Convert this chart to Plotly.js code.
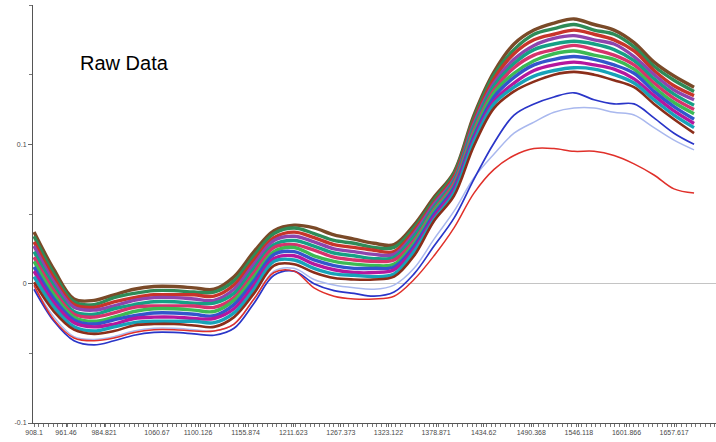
<!DOCTYPE html>
<html>
<head>
<meta charset="utf-8">
<script src="https://cdn.plot.ly/plotly-3.0.1.min.js"></script>
<style>
  html, body { margin: 0; padding: 0; background: #ffffff; }
  #chart { width: 716px; height: 442px; }
</style>
</head>
<body>
<div id="chart"></div>
<script>
// Wavelength sampling points (nm)
const wavelengths = [908.1, 931.5, 954.9, 978.4, 1001.8, 1025.2, 1048.6, 1072.0, 1095.5, 1118.9,
  1142.3, 1165.7, 1189.1, 1212.6, 1236.0, 1259.4, 1282.8, 1306.2, 1329.7, 1353.1,
  1376.5, 1399.9, 1423.3, 1446.8, 1470.2, 1493.6, 1517.0, 1540.4, 1563.9, 1587.3,
  1610.7, 1634.1, 1657.5, 1681.0];

// Spectra (absorbance)
const s01 = [0.037, 0.010, -0.011, -0.012, -0.008, -0.004, -0.002, -0.002, -0.003, -0.004, 0.005, 0.023, 0.038, 0.042, 0.040, 0.035, 0.032, 0.029, 0.028, 0.042, 0.062, 0.080, 0.121, 0.152, 0.172, 0.182, 0.187, 0.190, 0.186, 0.182, 0.173, 0.159, 0.149, 0.141];
const s02 = [0.034, 0.007, -0.013, -0.015, -0.010, -0.007, -0.005, -0.005, -0.006, -0.006, 0.002, 0.020, 0.036, 0.040, 0.036, 0.031, 0.029, 0.026, 0.026, 0.040, 0.060, 0.079, 0.119, 0.150, 0.168, 0.179, 0.183, 0.186, 0.182, 0.179, 0.170, 0.156, 0.146, 0.138];
const s03 = [0.030, 0.004, -0.015, -0.017, -0.013, -0.010, -0.008, -0.008, -0.008, -0.009, -0.001, 0.017, 0.033, 0.037, 0.033, 0.028, 0.026, 0.024, 0.023, 0.038, 0.058, 0.077, 0.117, 0.147, 0.165, 0.175, 0.179, 0.182, 0.179, 0.175, 0.167, 0.153, 0.142, 0.135];
const s04 = [0.027, 0.001, -0.017, -0.019, -0.016, -0.012, -0.010, -0.010, -0.011, -0.012, -0.004, 0.014, 0.031, 0.034, 0.030, 0.025, 0.023, 0.021, 0.021, 0.036, 0.057, 0.075, 0.115, 0.144, 0.161, 0.171, 0.176, 0.178, 0.175, 0.172, 0.163, 0.150, 0.139, 0.132];
const s05 = [0.023, -0.002, -0.020, -0.022, -0.018, -0.015, -0.013, -0.013, -0.014, -0.014, -0.007, 0.011, 0.028, 0.031, 0.027, 0.022, 0.020, 0.018, 0.019, 0.034, 0.055, 0.074, 0.113, 0.142, 0.158, 0.168, 0.172, 0.174, 0.172, 0.168, 0.160, 0.147, 0.136, 0.128];
const s06 = [0.019, -0.005, -0.022, -0.024, -0.021, -0.017, -0.016, -0.016, -0.016, -0.017, -0.010, 0.008, 0.026, 0.028, 0.024, 0.019, 0.017, 0.016, 0.017, 0.031, 0.053, 0.072, 0.110, 0.139, 0.155, 0.164, 0.168, 0.171, 0.168, 0.164, 0.157, 0.144, 0.133, 0.125];
const s07 = [0.016, -0.008, -0.024, -0.027, -0.024, -0.020, -0.018, -0.018, -0.019, -0.020, -0.012, 0.005, 0.023, 0.026, 0.020, 0.016, 0.014, 0.013, 0.014, 0.029, 0.052, 0.070, 0.108, 0.137, 0.151, 0.160, 0.165, 0.167, 0.164, 0.161, 0.154, 0.141, 0.130, 0.122];
const s08 = [0.012, -0.011, -0.026, -0.029, -0.026, -0.023, -0.021, -0.021, -0.022, -0.023, -0.015, 0.002, 0.021, 0.023, 0.017, 0.013, 0.011, 0.011, 0.012, 0.027, 0.050, 0.069, 0.106, 0.134, 0.148, 0.157, 0.161, 0.163, 0.161, 0.157, 0.151, 0.138, 0.127, 0.118];
const s09 = [0.009, -0.014, -0.028, -0.031, -0.029, -0.025, -0.024, -0.024, -0.025, -0.025, -0.018, -0.001, 0.018, 0.020, 0.014, 0.010, 0.008, 0.008, 0.010, 0.025, 0.048, 0.067, 0.104, 0.131, 0.144, 0.153, 0.157, 0.159, 0.157, 0.154, 0.147, 0.135, 0.124, 0.115];
const s10 = [0.005, -0.017, -0.031, -0.034, -0.031, -0.028, -0.027, -0.027, -0.027, -0.028, -0.021, -0.004, 0.016, 0.017, 0.011, 0.007, 0.006, 0.005, 0.007, 0.023, 0.046, 0.065, 0.102, 0.129, 0.141, 0.149, 0.153, 0.155, 0.154, 0.150, 0.144, 0.132, 0.121, 0.112];
const s11 = [0.001, -0.020, -0.033, -0.036, -0.034, -0.030, -0.029, -0.029, -0.030, -0.031, -0.024, -0.007, 0.013, 0.014, 0.008, 0.004, 0.003, 0.003, 0.005, 0.020, 0.045, 0.063, 0.099, 0.126, 0.138, 0.145, 0.150, 0.152, 0.150, 0.146, 0.141, 0.129, 0.118, 0.108];
const sLightBlue = [-0.002, -0.024, -0.038, -0.040, -0.038, -0.034, -0.032, -0.032, -0.033, -0.034, -0.029, -0.011, 0.009, 0.011, 0.003, -0.001, -0.003, -0.004, -0.001, 0.011, 0.032, 0.052, 0.076, 0.093, 0.108, 0.116, 0.123, 0.126, 0.126, 0.123, 0.121, 0.112, 0.103, 0.096];
const sBlue = [-0.004, -0.027, -0.041, -0.044, -0.041, -0.037, -0.035, -0.035, -0.036, -0.037, -0.032, -0.014, 0.006, 0.009, 0.000, -0.005, -0.007, -0.009, -0.006, 0.007, 0.027, 0.047, 0.075, 0.101, 0.121, 0.129, 0.134, 0.137, 0.132, 0.129, 0.129, 0.119, 0.108, 0.100];
const sRed = [-0.001, -0.026, -0.039, -0.041, -0.039, -0.035, -0.033, -0.033, -0.034, -0.034, -0.029, -0.011, 0.008, 0.009, -0.003, -0.009, -0.011, -0.011, -0.009, 0.003, 0.020, 0.040, 0.065, 0.082, 0.092, 0.097, 0.097, 0.095, 0.095, 0.092, 0.086, 0.078, 0.068, 0.065];

const series = [s01, s02, s03, s04, s05, s06, s07, s08, s09, s10, s11, sLightBlue, sBlue, sRed];

// Axis ticks
const xTickVals = [908.1, 945.6, 990.1, 1052.1, 1100.126, 1155.874, 1211.623, 1267.373, 1323.122, 1378.871, 1434.62, 1490.368, 1546.118, 1601.866, 1657.617];
const xTickText = ["908.1", "961.46", "984.821", "1060.67", "1100.126", "1155.874", "1211.623", "1267.373", "1323.122", "1378.871", "1434.62", "1490.368", "1546.118", "1601.866", "1657.617"];
const xSampleStep = 5.5749;
const yTickVals = [-0.1, 0, 0.1];
const yTickText = ["-0.1", "0", "0.1"];
const titleText = "Raw Data";

// Styles
const colors = ['#7a4a28', '#2e8b57', '#c8342a', '#8e44ad', '#16a085', '#d6336c', '#3cba54', '#3355cc', '#b5179e', '#17a2b8', '#8b2e1a', '#a9b8ee', '#2a35c8', '#e0302a'];
const widths = [3.4, 3.4, 3.4, 3.4, 3.4, 3.4, 3.4, 3.4, 3.4, 3.4, 2.6, 1.5, 1.7, 1.5];

const traces = series.map((y, i) => ({
  type: 'scatter',
  mode: 'lines',
  x: wavelengths,
  y: y,
  line: { color: colors[i], width: widths[i], shape: 'spline', smoothing: 1 },
  hoverinfo: 'skip',
  showlegend: false
}));

const axisFont = { family: 'Liberation Sans, Arial, sans-serif', size: 7, color: '#4a4a4a' };
const xRange = [906.9, 1706.7];

const layout = {
  width: 716,
  height: 442,
  margin: { l: 33, r: 0, t: 5, b: 19, pad: 0 },
  paper_bgcolor: '#ffffff',
  plot_bgcolor: '#ffffff',
  showlegend: false,
  xaxis: {
    range: xRange,
    tickmode: 'array',
    tickvals: xTickVals,
    ticktext: xTickText,
    tickfont: axisFont,
    ticks: 'outside',
    ticklen: 3,
    tickwidth: 1,
    tickcolor: '#666666',
    showline: true,
    linecolor: '#555555',
    linewidth: 1,
    showgrid: false,
    zeroline: false
  },
  xaxis2: {
    range: xRange,
    overlaying: 'x',
    anchor: 'y',
    side: 'bottom',
    tickmode: 'linear',
    tick0: 908.1,
    dtick: xSampleStep,
    showticklabels: false,
    ticks: 'outside',
    ticklen: 3,
    tickwidth: 1,
    tickcolor: '#777777',
    showline: false,
    showgrid: false,
    zeroline: false
  },
  yaxis: {
    range: [-0.1, 0.2],
    tickmode: 'array',
    tickvals: yTickVals,
    ticktext: yTickText,
    tickfont: axisFont,
    ticks: 'outside',
    ticklen: 4,
    tickwidth: 1,
    tickcolor: '#666666',
    showline: true,
    linecolor: '#555555',
    linewidth: 1,
    showgrid: false,
    zeroline: true,
    zerolinecolor: '#c4c4c4',
    zerolinewidth: 1.5,
    minor: { tick0: 0, dtick: 0.05, ticks: 'outside', ticklen: 3, tickcolor: '#777777', tickwidth: 1, showgrid: false }
  },
  annotations: [{
    text: titleText,
    xref: 'paper', yref: 'paper',
    x: 0.066, y: 0.861,
    xanchor: 'left', yanchor: 'middle',
    showarrow: false,
    font: { family: 'Liberation Sans, Arial, sans-serif', size: 20, color: '#000000' }
  }]
};

// an empty trace on the overlay axis so the dense sample ticks are drawn
traces.push({ type: 'scatter', mode: 'lines', x: [], y: [], xaxis: 'x2', yaxis: 'y', hoverinfo: 'skip', showlegend: false });

Plotly.newPlot('chart', traces, layout, { staticPlot: true, displayModeBar: false });
</script>
</body>
</html>
